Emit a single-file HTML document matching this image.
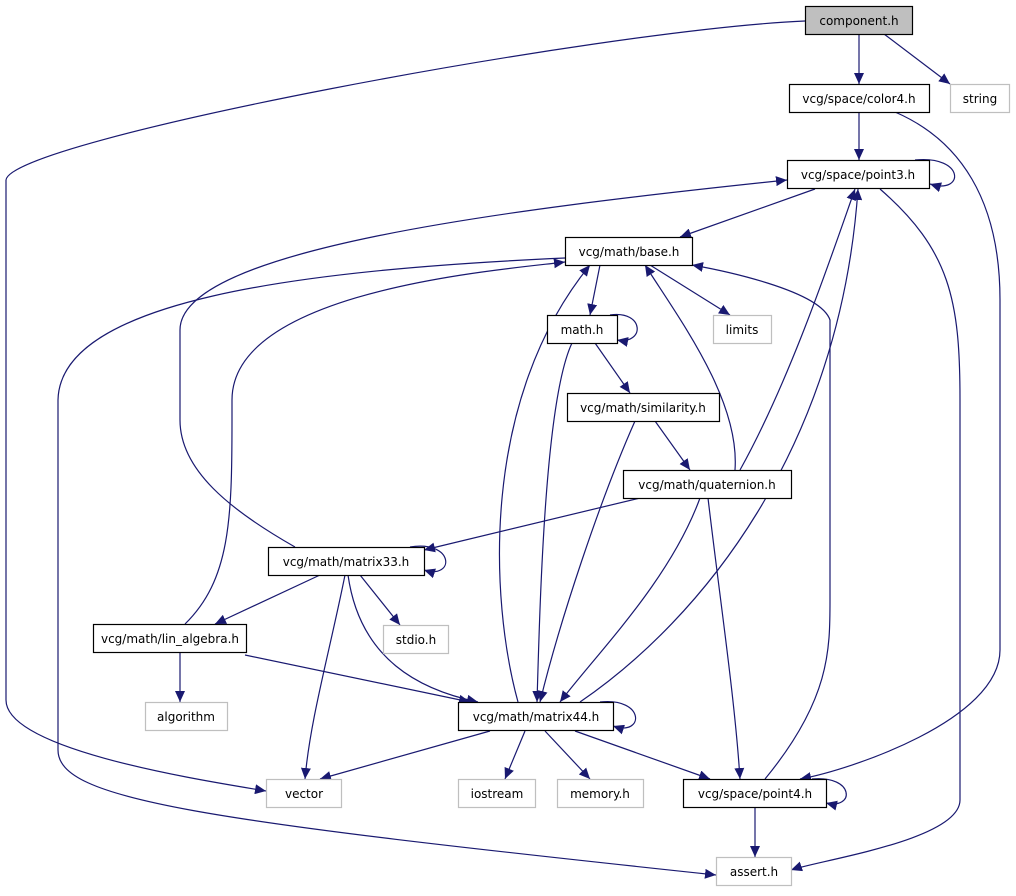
<!DOCTYPE html>
<html><head><meta charset="utf-8"><style>
body{margin:0;background:#fff;width:1016px;height:891px;overflow:hidden}
svg text{font-family:"DejaVu Sans","Liberation Sans",sans-serif;font-size:12px;text-anchor:middle}
</style></head><body>
<svg width="1016" height="891" xmlns="http://www.w3.org/2000/svg">
<defs><marker id="a" markerUnits="userSpaceOnUse" markerWidth="12" markerHeight="10" refX="11" refY="5" orient="auto"><path d="M0,0 L11,5 L0,10 z" fill="#191970"/></marker></defs>
<g fill="none" stroke="#191970" stroke-width="1.2" marker-end="url(#a)">
<path d="M859,34 L859,84"/>
<path d="M884,34 L950,84"/>
<path d="M805,21 C600,30 10,140 6,180 L6,700 C6,750 200,780 266,791"/>
<path d="M859,112 L859,160"/>
<path d="M895,112 C960,140 1000,200 1000,300 L1000,650 C1000,720 850,770 800,779"/>
<path d="M915,160 C965,155 965,195 930,184"/>
<path d="M815,189 L680,237"/>
<path d="M880,189 C950,250 960,300 960,400 L960,800 C960,840 820,860 791,870"/>
<path d="M600,265 L590,315"/>
<path d="M650,265 L730,315"/>
<path d="M565,258 C300,270 60,300 58,400 L58,750 C58,800 200,820 716,875"/>
<path d="M610,315 C645,310 645,345 617,340"/>
<path d="M595,343 L630,393"/>
<path d="M572,343 C545,400 540,600 537,702"/>
<path d="M655,421 L690,470"/>
<path d="M635,421 C600,500 560,620 540,702"/>
<path d="M735,470 C740,400 680,320 645,265"/>
<path d="M740,470 C790,380 830,260 855,189"/>
<path d="M640,498 L424,550"/>
<path d="M700,498 C670,580 600,650 560,702"/>
<path d="M708,498 C720,600 735,700 740,779"/>
<path d="M295,547 C230,510 180,470 180,420 L180,330 C180,250 500,210 787,180"/>
<path d="M410,547 C455,540 455,580 424,570"/>
<path d="M320,575 L215,624"/>
<path d="M360,575 L400,625"/>
<path d="M345,575 C330,650 310,720 305,779"/>
<path d="M348,575 C360,660 420,690 478,702"/>
<path d="M185,624 C230,580 232,520 232,420 L232,400 C232,290 500,270 565,262"/>
<path d="M180,652 L180,702"/>
<path d="M245,655 L470,702"/>
<path d="M518,702 C490,600 480,400 590,265"/>
<path d="M580,702 C700,620 840,450 858,189"/>
<path d="M600,702 C645,697 645,737 613,726"/>
<path d="M490,731 L320,779"/>
<path d="M525,731 L505,779"/>
<path d="M545,731 L590,779"/>
<path d="M575,731 L710,779"/>
<path d="M765,779 C830,700 830,650 830,600 L830,320 C820,290 720,270 692,265"/>
<path d="M812,779 C855,775 855,810 826,803"/>
<path d="M755,807 L755,857"/>
</g>
<g stroke-width="1.2">
<rect x="805.5" y="6.5" width="107" height="28" fill="#bfbfbf" stroke="#000"/><text x="859" y="25">component.h</text>
<rect x="950.5" y="84.5" width="59" height="28" fill="#fff" stroke="#bfbfbf"/><text x="980" y="103">string</text>
<rect x="789.5" y="84.5" width="140" height="28" fill="#fff" stroke="#000"/><text x="859" y="103">vcg/space/color4.h</text>
<rect x="787.5" y="160.5" width="142" height="28" fill="#fff" stroke="#000"/><text x="858" y="179">vcg/space/point3.h</text>
<rect x="565.5" y="237.5" width="127" height="28" fill="#fff" stroke="#000"/><text x="629" y="256">vcg/math/base.h</text>
<rect x="713.5" y="315.5" width="58" height="28" fill="#fff" stroke="#bfbfbf"/><text x="742" y="334">limits</text>
<rect x="547.5" y="315.5" width="70" height="28" fill="#fff" stroke="#000"/><text x="582" y="334">math.h</text>
<rect x="567.5" y="393.5" width="152" height="28" fill="#fff" stroke="#000"/><text x="643" y="412">vcg/math/similarity.h</text>
<rect x="623.5" y="470.5" width="168" height="28" fill="#fff" stroke="#000"/><text x="707" y="489">vcg/math/quaternion.h</text>
<rect x="268.5" y="547.5" width="156" height="28" fill="#fff" stroke="#000"/><text x="346" y="566">vcg/math/matrix33.h</text>
<rect x="383.5" y="625.5" width="65" height="28" fill="#fff" stroke="#bfbfbf"/><text x="416" y="644">stdio.h</text>
<rect x="93.5" y="624.5" width="153" height="28" fill="#fff" stroke="#000"/><text x="170" y="643">vcg/math/lin_algebra.h</text>
<rect x="145.5" y="702.5" width="82" height="28" fill="#fff" stroke="#bfbfbf"/><text x="186" y="721">algorithm</text>
<rect x="458.5" y="702.5" width="155" height="28" fill="#fff" stroke="#000"/><text x="536" y="721">vcg/math/matrix44.h</text>
<rect x="266.5" y="779.5" width="75" height="28" fill="#fff" stroke="#bfbfbf"/><text x="304" y="798">vector</text>
<rect x="458.5" y="779.5" width="77" height="28" fill="#fff" stroke="#bfbfbf"/><text x="497" y="798">iostream</text>
<rect x="557.5" y="779.5" width="86" height="28" fill="#fff" stroke="#bfbfbf"/><text x="600" y="798">memory.h</text>
<rect x="683.5" y="779.5" width="143" height="28" fill="#fff" stroke="#000"/><text x="755" y="798">vcg/space/point4.h</text>
<rect x="716.5" y="857.5" width="75" height="28" fill="#fff" stroke="#bfbfbf"/><text x="754" y="876">assert.h</text>
</g>
</svg>
</body></html>
